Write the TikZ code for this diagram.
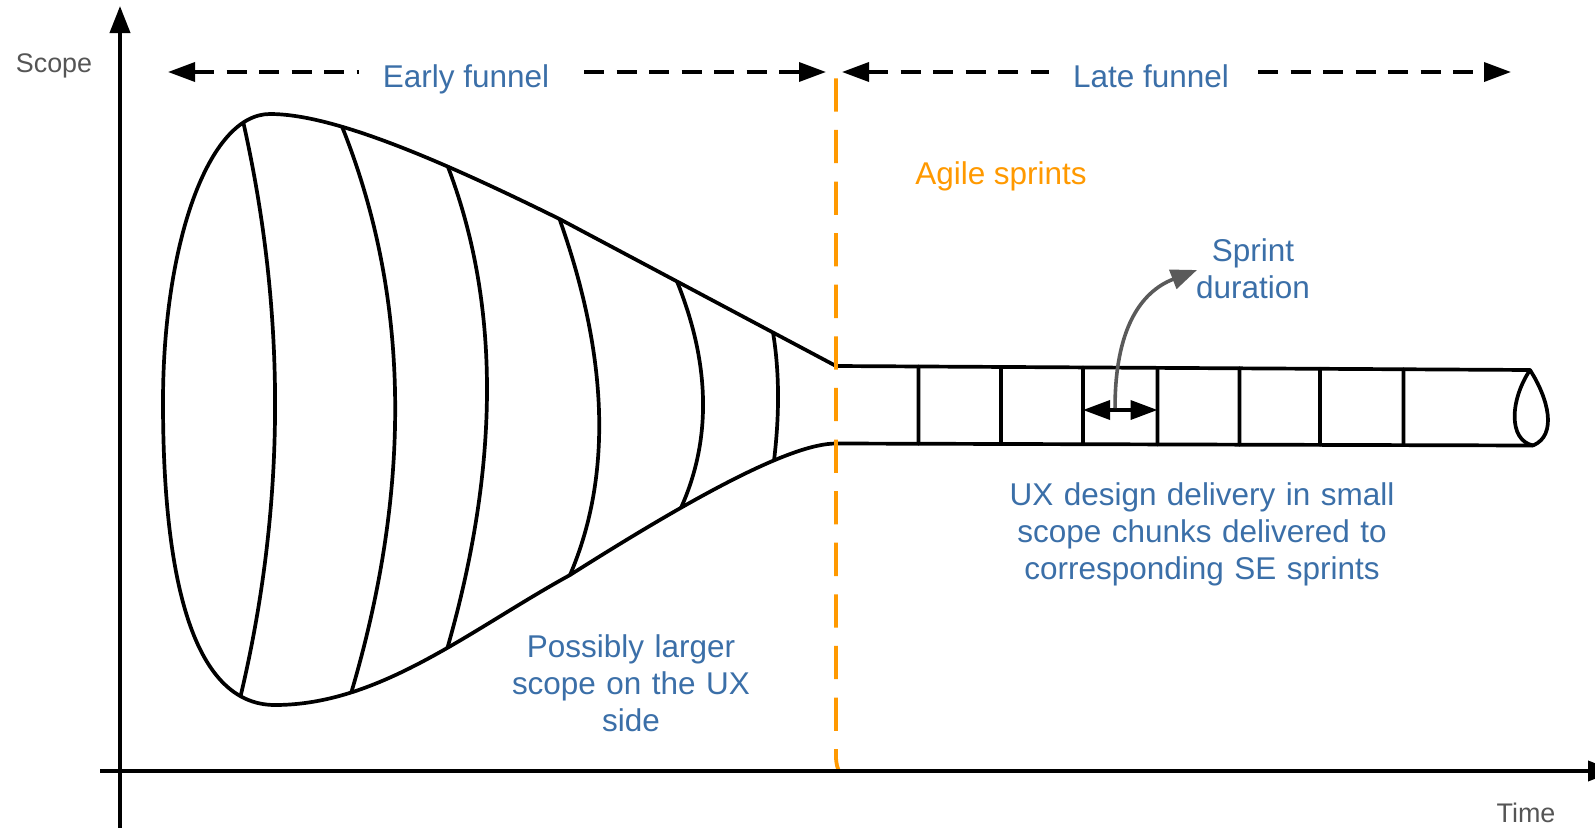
\documentclass[tikz,border=0pt]{standalone}
\usepackage{fontspec}
\setmainfont{Liberation Sans}
\usetikzlibrary{arrows.meta,calc}
\setlength{\parindent}{0pt}
\definecolor{labelblue}{RGB}{59,111,168}
\definecolor{axisgray}{RGB}{85,85,85}
\definecolor{sprintorange}{RGB}{255,153,0}
\definecolor{pointergray}{RGB}{90,90,90}
\tikzset{
  headA/.tip={Triangle[length=27bp,width=19bp]},
  outline/.style={line width=3.7bp, line join=round, line cap=round},
  axisline/.style={line width=3.8bp},
  dashline/.style={line width=3.6bp, dash pattern=on 20bp off 12.5bp},
  sprintline/.style={line width=3.8bp, sprintorange, dash pattern=on 33.3bp off 18.3bp},
  pointer/.style={line width=3.6bp, pointergray, -{Triangle[length=26bp,width=20bp]}},
  lbl/.style={text=labelblue, font=\fontsize{31.6}{37.3}\selectfont, inner sep=0pt},
  multilbl/.style={lbl, text width=440bp, align=center, anchor=base},
  axislbl/.style={text=axisgray, font=\fontsize{27}{32}\selectfont, inner sep=0pt, anchor=base},
  bandlbl/.style={lbl, fill=white, inner xsep=24bp, inner ysep=10bp, anchor=base},
}
\begin{document}
\begin{tikzpicture}[x=1bp,y=-1bp]
\useasboundingbox (0,0) rectangle (1595,827);
\clip (0,0) rectangle (1595,827);

% funnel outline: top edge, rounded mouth, bottom edge
\draw[outline]
  (836,366) coordinate (nt0)
  -- coordinate[pos=0.2278] (r6t) coordinate[pos=0.575] (r5t) (559.5,219) coordinate (r4t)
  .. controls (430,155) and (330,114) .. coordinate[pos=0.31] (r3t) coordinate[pos=0.67] (r2t) (270,114)
  .. controls (208,114) and (163,245) .. coordinate[pos=0.15] (r1t) (163,402)
  .. controls (163,570) and (190,705) .. coordinate[pos=0.85] (r1b) (275,705)
  .. controls (380,705) and (470,630) .. coordinate[pos=0.25] (r2b) coordinate[pos=0.58] (r3b) (570,575) coordinate (r4b)
  .. controls (690,499) and (790,443.5) .. coordinate[pos=0.33] (r5b) coordinate[pos=0.67] (r6b) (836,443.5) coordinate (nb0);

% ribs of the funnel (parabolic arcs bulging towards the tube)
\draw[outline] (r1t) .. controls (286.5,314.6) and (285.7,505.8) .. (r1b);
\draw[outline] (r2t) .. controls (409.7,296) and (412.7,484.7) .. (r2b);
\draw[outline] (r3t) .. controls (500.2,304) and (500,464) .. (r3b);
\draw[outline] (r4t) .. controls (608.7,357.7) and (612.2,476.3) .. (r4b);
\draw[outline] (r5t) .. controls (710.3,364.1) and (711.7,439.5) .. (r5b);
\draw[outline] (r6t) .. controls (779.3,370.6) and (779.7,413.2) .. (r6b);

% narrow tube of sprints
\coordinate (nt1) at (1530,370);
\coordinate (nb1) at (1533,445.5);
\draw[outline] (nt0) -- (nt1);
\draw[outline] (nb0) -- (nb1);
\draw[outline] (nt1) .. controls (1510,400) and (1508,440) .. (nb1);
\draw[outline] (nt1) .. controls (1548,398) and (1558,435) .. (nb1);
\foreach \x in {918.5,1001,1083,1157.5,1239.5,1320,1403.5}
  \draw[outline] ($(nt0)!{(\x-836)/694}!(nt1)$) -- ($(nb0)!{(\x-836)/697}!(nb1)$);

% sprint duration marker
\coordinate (sdl) at (1083,410);
\coordinate (sdr) at (1157.5,410);
\coordinate (sdm) at ($(sdl)!0.43!(sdr)$);
\coordinate (sdtip) at (1197,270);
\draw[line width=3.6bp, {Triangle[length=27bp,width=19bp]}-{Triangle[length=27bp,width=19bp]}] (sdl) -- (sdr);
\draw[pointer] ($(sdm)+(0,-2)$) .. controls (1115,330) and (1140,292) .. (sdtip);

% boundary between early and late funnel
\coordinate (ot) at (836,78.3);
\coordinate (ob) at (839,771);
\draw[sprintline] (ot) -- (836,756) .. controls (836,764) and (837.5,768) .. (ob);

% axes
\coordinate (xa0) at (100,771);
\coordinate (xa1) at (1615,771);
\coordinate (ya0) at (120,832);
\coordinate (ya1) at (120,6);
\draw[axisline, -{Triangle[length=27bp,width=20bp]}] (xa0) -- (xa1);
\draw[axisline, -{Triangle[length=27bp,width=20bp]}] (ya0) -- (ya1);

% phase arrows
\coordinate (ef0) at (168,72);
\coordinate (ef1) at (826,72);
\coordinate (lf0) at (842,72);
\coordinate (lf1) at (1511,72);
\draw[dashline, {headA}-{headA}] (ef0) -- (ef1);
\draw[dashline, {headA}-{headA}] (lf0) -- (lf1);

% labels
\node[bandlbl] (early) at (466,87) {Early funnel};
\node[bandlbl] (late) at (1151,87) {Late funnel};
\node[axislbl] (scope) at (54,72) {Scope};
\node[axislbl] (time) at (1526,822) {Time};
\node[lbl, text=sprintorange, anchor=base] (agile) at (1001,184.3) {Agile sprints};
\node[multilbl] (sprint) at (1253,261) {Sprint\\duration};
\node[multilbl] (larger) at (631,657) {Possibly larger\\scope on the UX\\side};
\node[multilbl] (delivery) at (1202,505) {UX design delivery in small\\scope chunks delivered to\\corresponding SE sprints};
\end{tikzpicture}
\end{document}
